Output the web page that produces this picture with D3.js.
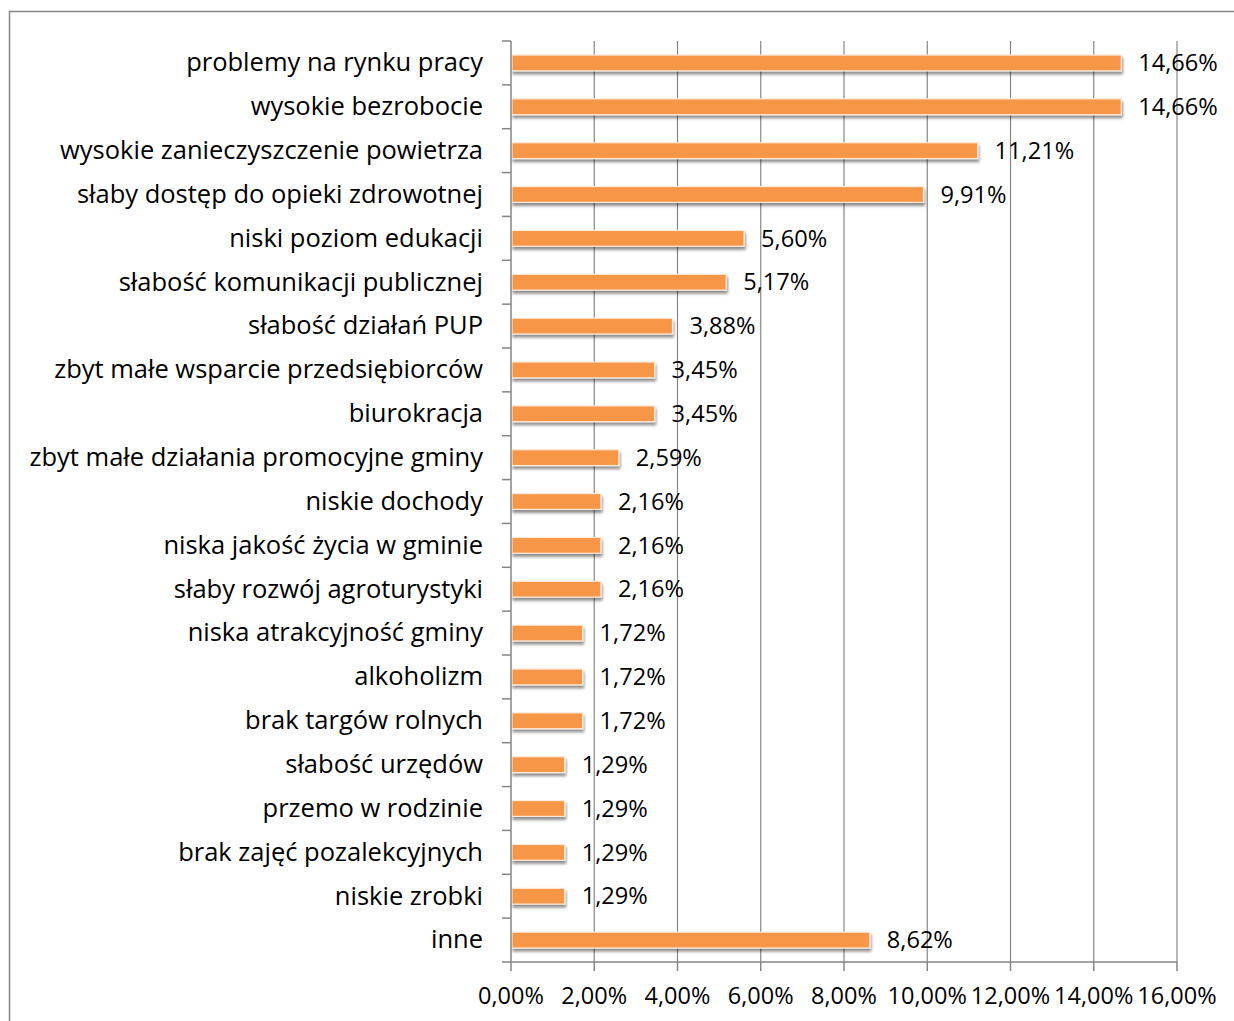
<!DOCTYPE html>
<html><head><meta charset="utf-8">
<script src="https://cdn.jsdelivr.net/npm/d3@7"></script>
<style>body{margin:0;background:#fff}svg{display:block}</style>
</head><body>
<script>
const categories = ["problemy na rynku pracy","wysokie bezrobocie","wysokie zanieczyszczenie powietrza","słaby dostęp do opieki zdrowotnej","niski poziom edukacji","słabość komunikacji publicznej","słabość działań PUP","zbyt małe wsparcie przedsiębiorców","biurokracja","zbyt małe działania promocyjne gminy","niskie dochody","niska jakość życia w gminie","słaby rozwój agroturystyki","niska atrakcyjność gminy","alkoholizm","brak targów rolnych","słabość urzędów","przemo w rodzinie","brak zajęć pozalekcyjnych","niskie zrobki","inne"];
const values = [14.66,14.66,11.21,9.91,5.60,5.17,3.88,3.45,3.45,2.59,2.16,2.16,2.16,1.72,1.72,1.72,1.29,1.29,1.29,1.29,8.62];
const xTicks = [0,2,4,6,8,10,12,14,16];

const W=1234,H=1021;
const fmt = v => v.toFixed(2).replace(".",",")+"%";
const svg = d3.select("body").append("svg").attr("width",W).attr("height",H);
const FONT = "'Open Sans', sans-serif";

const defs = svg.append("defs");
const f = defs.append("filter").attr("id","sh").attr("x","-5%").attr("y","-30%").attr("width","110%").attr("height","200%");
f.append("feGaussianBlur").attr("in","SourceAlpha").attr("stdDeviation",1.8).attr("result","b");
f.append("feOffset").attr("in","b").attr("dx",1).attr("dy",3).attr("result","o");
f.append("feComponentTransfer").attr("in","o").attr("result","t").append("feFuncA").attr("type","linear").attr("slope",0.45);
const m = f.append("feMerge"); m.append("feMergeNode").attr("in","t"); m.append("feMergeNode").attr("in","SourceGraphic");

svg.append("rect").attr("x",9.5).attr("y",11.5).attr("width",W).attr("height",H).attr("fill","none").attr("stroke","#868686").attr("stroke-width",1.5);

const x0=511,x1=1177,y0=41,y1=962;
const x = d3.scaleLinear().domain([0,16]).range([x0,x1]);
const y = d3.scaleBand().domain(categories).range([y0,y1]).paddingInner(0.64).paddingOuter(0.32);
const yb = d3.scaleBand().domain(categories).range([y0,y1]);

// gridlines
svg.append("g").selectAll("line").data(xTicks.slice(1)).join("line")
  .attr("x1",d=>x(d)).attr("x2",d=>x(d)).attr("y1",y0).attr("y2",y1)
  .attr("stroke","#868686").attr("stroke-width",1.2);

// bars
svg.append("g").selectAll("rect").data(values).join("rect")
  .attr("x",x(0)+1).attr("y",(d,i)=>y(categories[i]))
  .attr("width",d=>x(d)-x(0)-1).attr("height",y.bandwidth())
  .attr("fill","#F79646").attr("stroke","#FDE9D9").attr("stroke-width",1.2).attr("filter","url(#sh)");

// y axis
const ya = svg.append("g").attr("transform",`translate(${x0},0)`);
ya.append("line").attr("x1",0).attr("x2",0).attr("y1",y0).attr("y2",y1).attr("stroke","#868686").attr("stroke-width",1.5);
const yTickPos = categories.map(c=>yb(c)).concat([y1]);
ya.selectAll("line.t").data(yTickPos).join("line").attr("class","t").attr("x1",-9).attr("x2",0).attr("y1",d=>d).attr("y2",d=>d).attr("stroke","#868686").attr("stroke-width",1.5);
ya.selectAll("text").data(categories).join("text")
  .attr("x",-28).attr("y",c=>yb(c)+yb.bandwidth()/2).attr("dy","0.33em")
  .attr("text-anchor","end").attr("font-family",FONT).attr("font-size",25.5).attr("fill","#000").text(c=>c);

// x axis
const xa = svg.append("g").attr("transform",`translate(0,${y1})`);
xa.append("line").attr("x1",x0).attr("x2",x1).attr("stroke","#868686").attr("stroke-width",1.5);
xa.selectAll("line.t").data(xTicks).join("line").attr("class","t").attr("x1",d=>x(d)).attr("x2",d=>x(d)).attr("y1",0).attr("y2",9).attr("stroke","#868686").attr("stroke-width",1.5);
xa.selectAll("text").data(xTicks).join("text")
  .attr("x",d=>x(d)).attr("y",34).attr("dy","0.35em").attr("text-anchor","middle")
  .attr("font-family",FONT).attr("font-size",23.5).attr("fill","#000").text(d=>fmt(d));

// value labels
svg.append("g").selectAll("text").data(values).join("text")
  .attr("x",d=>x(d)+17).attr("y",(d,i)=>yb(categories[i])+yb.bandwidth()/2).attr("dy","0.35em")
  .attr("font-family",FONT).attr("font-size",23.6).attr("fill","#000").text(d=>fmt(d));
</script>
</body></html>
